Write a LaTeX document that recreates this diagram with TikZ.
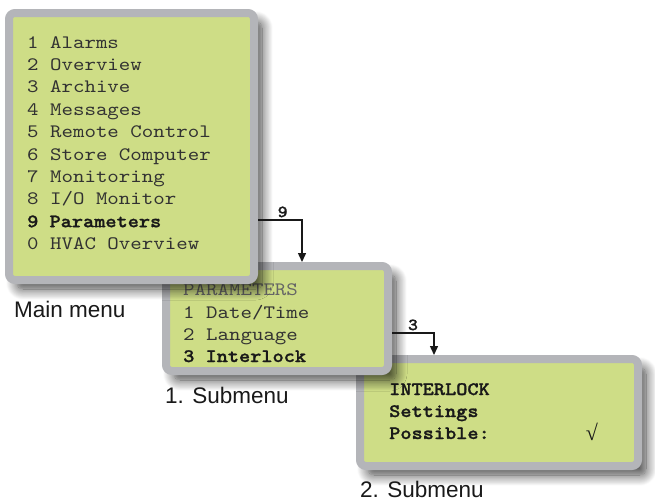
\documentclass[tikz,border=0pt]{standalone}
\usepackage{fontspec}
\setsansfont{Liberation Sans}
\newfontfamily\serifsym{Liberation Serif}
\newfontfamily\lcdfont[FakeStretch=1.15, BoldFont=lmmonolt10-bold.otf, BoldFeatures={FakeStretch=1.12, FakeBold=1.2}]{lmmono10-regular.otf}
\usetikzlibrary{arrows.meta,shadows.blur}
\definecolor{lcd}{RGB}{206,221,134}
\definecolor{rim}{RGB}{180,181,185}
\definecolor{txt}{RGB}{50,50,50}
\definecolor{bld}{RGB}{25,25,25}
\tikzset{
  panel/.style={draw=rim, fill=lcd, line width=8pt, rounded corners=6pt,
    blur shadow={shadow xshift=8pt, shadow yshift=-9pt, shadow blur radius=11pt, shadow blur steps=14, shadow opacity=75}},
  lcdline/.style={anchor=base west, inner sep=0pt, text=txt, font=\lcdfont\fontsize{19}{22}\selectfont},
  lcdbold/.style={lcdline, text=bld, font=\lcdfont\bfseries\fontsize{19}{22}\selectfont},
  caption/.style={anchor=base west, inner sep=0pt, text=bld, font=\sffamily\fontsize{22.5}{26}\selectfont},
  conn/.style={draw=bld, line width=1.4pt, -{Triangle[length=9pt,width=8pt]}},
  keylabel/.style={above=2pt, inner sep=0pt, text=bld, font=\lcdfont\bfseries\fontsize{17}{18}\selectfont}
}
\begin{document}
\begin{tikzpicture}[x=1pt,y=-1pt]
\useasboundingbox (0,0) rectangle (655,501);
% submenu 2
\node[panel, minimum width=278pt, minimum height=107pt] (sub2) at (499,412.5) {};
\node[lcdbold] (s2a) at (389,395) {INTERLOCK};
\node[lcdbold] (s2b) at (389,417) {Settings};
\node[lcdbold] (s2c) at (389,439) {Possible:};
\node[anchor=base, inner sep=0pt, text=bld, font=\serifsym\fontsize{22}{24}\selectfont] (tick) at (592,440) {√};
\node[caption] (cap2) at (360,497) {2. Submenu};
% submenu 1
\node[panel, minimum width=222pt, minimum height=105pt] (sub1) at (277,318.5) {};
\node[lcdline, text=black!60] (s1a) at (183,295.5) {PARAMETERS};
\node[lcdline] (s1b) at (183,318) {1 Date/Time};
\node[lcdline] (s1c) at (183,340) {2 Language};
\node[lcdbold] (s1d) at (183,362) {3 Interlock};
\node[caption] (cap1) at (165,403) {1. Submenu};
% main menu
\node[panel, minimum width=245pt, minimum height=267pt] (main) at (131.5,146.5) {};
\node[lcdline] (m1) at (27,48) {1 Alarms};
\node[lcdline] (m2) at (27,70.4) {2 Overview};
\node[lcdline] (m3) at (27,92.8) {3 Archive};
\node[lcdline] (m4) at (27,115.2) {4 Messages};
\node[lcdline] (m5) at (27,137.6) {5 Remote Control};
\node[lcdline] (m6) at (27,160) {6 Store Computer};
\node[lcdline] (m7) at (27,182.4) {7 Monitoring};
\node[lcdline] (m8) at (27,204.8) {8 I/O Monitor};
\node[lcdbold] (m9) at (27,227.2) {9 Parameters};
\node[lcdline] (m0) at (27,249.6) {0 HVAC Overview};
\node[caption] (cap0) at (14,317) {Main menu};
% connectors
\draw[conn] (main.east |- 0,220) -| node[keylabel, pos=0.28] {9} (sub1.north -| 302,0);
\draw[conn] (sub1.east |- 0,333) -| node[keylabel, pos=0.25] {3} (sub2.north -| 434,0);
\end{tikzpicture}
\end{document}
